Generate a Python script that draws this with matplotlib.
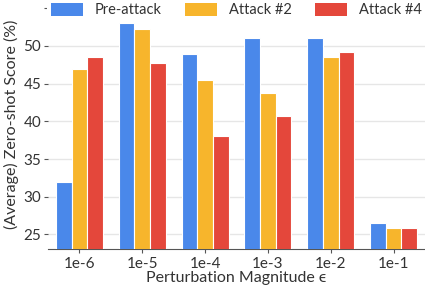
import numpy as np
import matplotlib.pyplot as plt
from matplotlib.patches import Patch

plt.rcParams['font.family'] = ['Lato', 'DejaVu Sans']

magnitudes = ["1e-6", "1e-5", "1e-4", "1e-3", "1e-2", "1e-1"]
pre_attack = [32.0, 53.0, 48.9, 51.1, 51.1, 26.5]
attack_2 = [47.0, 52.3, 45.5, 43.7, 48.6, 25.9]
attack_4 = [48.5, 47.8, 38.0, 40.7, 49.2, 25.9]

series = [("Pre-attack", pre_attack, "#4a88ea"),
          ("Attack #2", attack_2, "#f7b52c"),
          ("Attack #4", attack_4, "#e4473b")]

fig = plt.figure(figsize=(4.25, 2.85), dpi=100)
ax = fig.add_axes([0.113, 0.127, 0.887, 0.873])

x = np.arange(len(magnitudes))
w = 0.25
for i, (name, vals, col) in enumerate(series):
    ax.bar(x + (i - 1) * w, vals, w, color=col, edgecolor="white",
           linewidth=0.8, zorder=3, label=name)

ax.set_xlim(-0.5, 5.5)
ax.set_ylim(23.1, 56.1)
ax.set_yticks([25, 30, 35, 40, 45, 50, 55])
ax.set_yticklabels(["25", "30", "35", "40", "45", "50", ""])
ax.set_xticks(x)
ax.set_xticklabels(magnitudes)
ax.grid(axis="y", color="#e6e6e6", linewidth=1, zorder=0)
for s in ["left", "top", "right"]:
    ax.spines[s].set_visible(False)
ax.spines["bottom"].set_color("#555555")
ax.tick_params(axis="y", length=3, color="#555555", labelsize=11, labelcolor="#333333", pad=2)
ax.tick_params(axis="x", length=3, color="#555555", labelsize=11, labelcolor="#333333", pad=3)

ax.set_xlabel("Perturbation Magnitude \u03f5", fontsize=11.5, color="#333333", labelpad=0)
ax.set_ylabel("(Average) Zero-shot Score (%)", fontsize=11.5, color="#333333", labelpad=3)

handles = [Patch(facecolor=c, edgecolor="none") for _, _, c in series]
ax.legend(handles, [n for n, _, _ in series], loc="upper center",
          bbox_to_anchor=(0.5, 1.035), ncol=3, frameon=True, fancybox=False,
          edgecolor="none", facecolor="white", framealpha=1, fontsize=10.5,
          handlelength=2.2, handleheight=0.95, columnspacing=1.6,
          handletextpad=0.8, borderpad=0.3, labelcolor="#333333")

fig.savefig("out.png", dpi=100)
